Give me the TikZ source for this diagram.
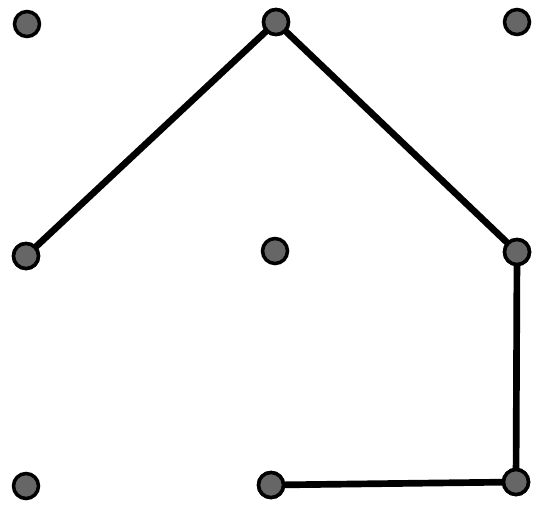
\documentclass[tikz,border=0pt]{standalone}
\begin{document}
\begin{tikzpicture}[
  x=0.02cm, y=-0.02cm,
  peg/.style={circle, draw=black, fill=black!60, line width=2pt, inner sep=0pt, minimum size=0.5cm},
  band/.style={line width=3.8pt, draw=black, line cap=round, line join=round}
]
  \useasboundingbox (0,0) rectangle (546,508);

  % fila superior
  \node[peg] (p13) at (27,24)  {};
  \node[peg] (p23) at (276,22) {};
  \node[peg] (p33) at (517,22) {};
  % fila central
  \node[peg] (p12) at (26,256)  {};
  \node[peg] (p22) at (275,251) {};
  \node[peg] (p32) at (517,252) {};
  % fila inferior
  \node[peg] (p11) at (26,486)  {};
  \node[peg] (p21) at (271,485) {};
  \node[peg] (p31) at (516,482) {};

  % Goma
  \draw[band] (p12.center) -- (p23.center) -- (p32.center) -- (p31.center) -- (p21.center);

  % clavos encima
  \foreach \p in {p12,p23,p32,p31,p21}
    \node[peg] at (\p) {};
\end{tikzpicture}
\end{document}
